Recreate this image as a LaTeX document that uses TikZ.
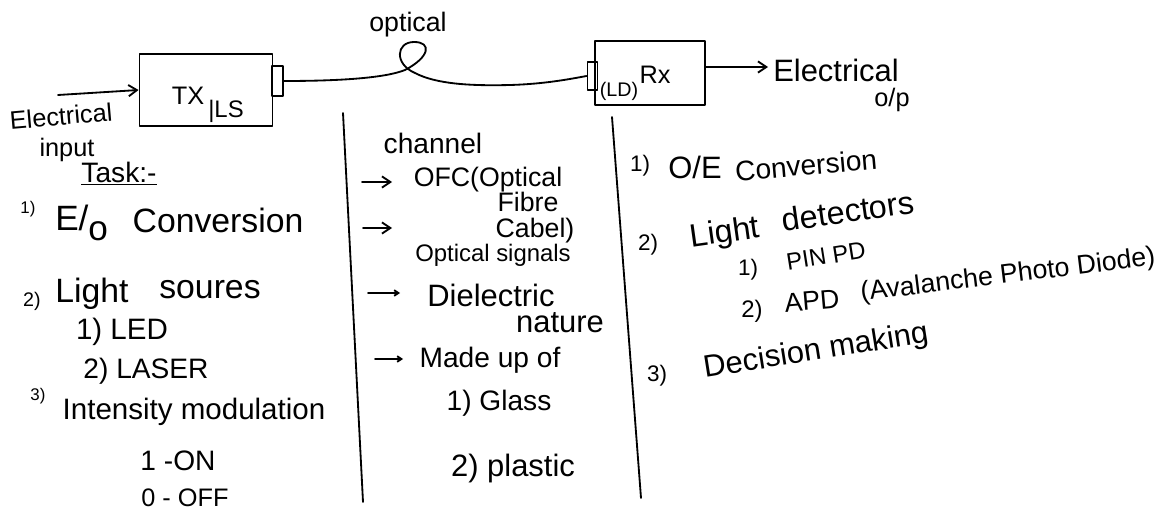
\documentclass[tikz,border=0pt]{standalone}
\usepackage{fontspec}
\setmainfont{Liberation Sans}
\usetikzlibrary{arrows.meta}
\newcommand{\fsz}[1]{\fontsize{#1}{#1}\selectfont}
\begin{document}
\begin{tikzpicture}[x=0.025cm,y=-0.025cm,
  ink/.style={line width=1.3pt, line cap=round, line join=round},
  box/.style={ink, draw, rectangle, inner sep=0pt},
  lbl/.style={inner sep=0pt, anchor=base},
  clbl/.style={inner sep=0pt, anchor=center},
  arr/.style={ink, -{Straight Barb[length=6pt,width=8pt,line width=1.3pt]}},
  sarr/.style={ink, -{Straight Barb[length=3pt,width=4pt,line width=1.3pt]}}
]
\useasboundingbox (0,0) rectangle (1170,512);

% ---------- transmitter ----------
\node[box, minimum width=3.325cm, minimum height=1.8cm] (tx) at (206,90) {};
\node[box, minimum width=0.275cm, minimum height=0.75cm] (txc) at (277.5,81) {};
\node[lbl, font=\fsz{18}] (txt) at (188,105) {TX};
\node[lbl, font=\fsz{17}] (ls) at (226,117) {|LS};

\coordinate (instart) at (58,95);
\draw[arr] (instart) -- (tx.west);
\node[clbl, font=\fsz{18}, rotate=5] (ein) at (61,116) {Electrical};
\node[lbl, font=\fsz{18}] (inp) at (67,156) {input};

% ---------- receiver ----------
\node[box, minimum width=2.75cm, minimum height=1.6cm] (rx) at (650,73) {};
\node[box, minimum width=0.25cm, minimum height=0.7cm] (rxc) at (592.5,76) {};
\node[lbl, font=\fsz{14}] (ld) at (619,97) {(LD)};
\node[lbl, font=\fsz{18}] (rxt) at (655,83) {Rx};

\coordinate (outend) at (768,67);
\draw[arr] ([yshift=0.15cm]rx.east) -- (outend);
\node[lbl, font=\fsz{22}] (eout) at (836,81) {Electrical};
\node[lbl, font=\fsz{18}] (op) at (892,106) {o/p};

% ---------- fibre ----------
\node[lbl, font=\fsz{19}] (opt) at (408,32) {optical};
\draw[ink] (txc.east) .. controls (340,81) and (385,78) .. (405,70)
  .. controls (430,57) and (432,42) .. (414,42)
  .. controls (396,42) and (394,64) .. (415,73)
  .. controls (436,84) and (470,86) .. (510,85)
  .. controls (545,84) and (570,79) .. (rxc.west);

% ---------- dividers ----------
\draw[ink] (343,113) -- (363,502);
\draw[ink] (612,117) -- (641,498);

% ---------- column 1 ----------
\node[lbl, font=\fsz{20}] (task) at (119,182) {\underline{Task:-}};
\node[lbl, font=\fsz{12}] (c1n1) at (28,213) {1)};
\node[lbl, font=\fsz{25}, anchor=base west] (eo) at (55,230) {E/\raisebox{-0.3em}{o}};
\node[lbl, font=\fsz{24}] (conv1) at (218,232) {Conversion};
\node[lbl, font=\fsz{14}] (c1n2) at (32,306) {2)};
\node[lbl, font=\fsz{24}] (light) at (92,302) {Light};
\node[lbl, font=\fsz{24}] (soures) at (210,298) {soures};
\node[lbl, font=\fsz{21}] (led) at (122,339) {1) LED};
\node[lbl, font=\fsz{20}] (laser) at (146,378) {2) LASER};
\node[lbl, font=\fsz{12}] (c1n3) at (38,400) {3)};
\node[lbl, font=\fsz{21}] (intm) at (194,419) {Intensity modulation};
\node[lbl, font=\fsz{20}] (on) at (178,470) {1 -ON};
\node[lbl, font=\fsz{18}] (off) at (185,506) {0 - OFF};

% ---------- column 2 ----------
\node[lbl, font=\fsz{20}] (chan) at (433,153) {channel};
\coordinate (a1s) at (362,182); \coordinate (a1e) at (392,182);
\draw[arr] (a1s) -- (a1e);
\node[lbl, font=\fsz{19}] (ofc) at (488,186) {OFC(Optical};
\node[lbl, font=\fsz{19}] (fibre) at (528,211) {Fibre};
\node[lbl, font=\fsz{19}] (cabel) at (535,237) {Cabel)};
\coordinate (a2s) at (363,228); \coordinate (a2e) at (392,228);
\draw[arr] (a2s) -- (a2e);
\node[lbl, font=\fsz{17}] (osig) at (493,261) {Optical signals};
\coordinate (a3s) at (368,293); \coordinate (a3e) at (400,293);
\draw[sarr] (a3s) -- (a3e);
\node[lbl, font=\fsz{22}] (diel) at (491,306) {Dielectric};
\node[lbl, font=\fsz{22}] (nat) at (560,332) {nature};
\coordinate (a4s) at (375,359); \coordinate (a4e) at (403,359);
\draw[sarr] (a4s) -- (a4e);
\node[lbl, font=\fsz{20}] (made) at (490,367) {Made up of};
\node[lbl, font=\fsz{20}] (glass) at (499,410) {1) Glass};
\node[lbl, font=\fsz{22}] (plast) at (513,476) {2) plastic};

% ---------- column 3 ----------
\node[clbl, font=\fsz{16}] (c3n1) at (640,166) {1)};
\node[clbl, font=\fsz{22}] (oe) at (695,167) {O/E};
\node[clbl, font=\fsz{20}, rotate=5] (conv3) at (806,165) {Conversion};
\node[clbl, font=\fsz{16}] (c3n2) at (648,245) {2)};
\node[clbl, font=\fsz{23}, rotate=8] (lgt3) at (725,234) {Light};
\node[clbl, font=\fsz{23}, rotate=8] (dets) at (848,211) {detectors};
\node[clbl, font=\fsz{16}] (p1) at (748,270) {1)};
\node[clbl, font=\fsz{17}, rotate=9] (pin) at (826,256) {PIN PD};
\node[clbl, font=\fsz{17}] (p2) at (752,311) {2)};
\node[clbl, font=\fsz{19}, rotate=5] (apd) at (812,301) {APD};
\node[clbl, font=\fsz{19}, rotate=7] (aval) at (1008,276) {(Avalanche Photo Diode)};
\node[clbl, font=\fsz{16}] (c3n3) at (657,376) {3)};
\node[clbl, font=\fsz{22}, rotate=9] (dec) at (816,352) {Decision making};
\end{tikzpicture}
\end{document}
